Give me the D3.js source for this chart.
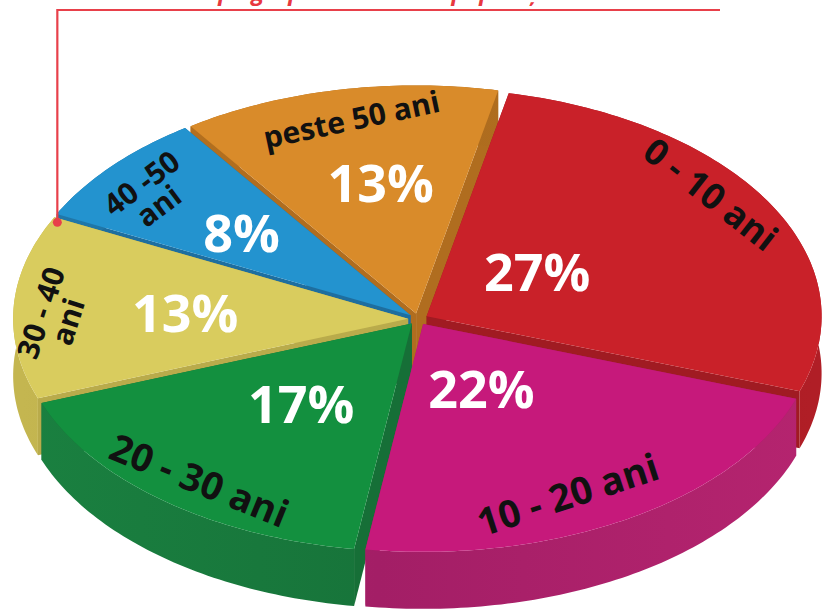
<!DOCTYPE html>
<html>
<head>
<meta charset="utf-8">
<script src="https://cdn.jsdelivr.net/npm/d3@7"></script>
<style>
  html, body { margin: 0; background: #ffffff; }
  svg { display: block; }
</style>
</head>
<body>
<svg id="chart" width="826" height="611"></svg>
<script>
// Age groups, shares and the texts written on each slice
const categories   = ["0 - 10 ani", "10 - 20 ani", "20 - 30 ani", "30 - 40 ani", "40 -50 ani", "peste 50 ani"];
const nameLines    = [["0 - 10 ani"], ["10 - 20 ani"], ["20 - 30 ani"], ["30 - 40", "ani"], ["40 -50", "ani"], ["peste 50 ani"]];
const values       = [27, 22, 17, 13, 8, 13];
const titleText    = "Structura pe grupe de vârstă a populației";

// Slice colours: top face, outer wall, cut faces
const topColors  = ["#c92129", "#c6197b", "#13903f", "#d9cc5e", "#2393cf", "#d98b2a"];
const wallColors = ["#9e1a22", "#a31e66", "#17743a", "#b3a547", "#1c6d9c", "#ab6a1e"];
const wallLight  = ["#b01e26", "#b5246f", "#1a8040", "#c4b650", "#2079ab", "#b97420"];
const cutColors  = ["#a01b22", "#a81c68", "#166f37", "#b9ab4b", "#1e6e9f", "#b06d1f"];

// Label placement on the slice (radius as a fraction, angle shift in degrees, rotation)
const pctRadius  = [0.37, 0.34, 0.47, 0.59, 0.59, 0.61];
const pctShift   = [-6, 3, 0, 0, 0, 2.5];
const nameRadius = [0.92, 0.86, 0.90, 0.92, 0.87, 0.89];
const nameShift  = [-7, 5, -1, -2.5, -2, 0.5];
const nameRot    = [38, -18, 22, -72, -37, -12];
const nameSize   = [36, 38, 38, 30, 30, 30];

const svg = d3.select("#chart");

// Oblique view of the pie: ellipse radii, centre, thickness and explode distance
const cx = 418, cy = 319, rx = 395, ry = 228, depth = 57, explode = 0.025;
const deg = Math.PI / 180;

const startA = 12 * deg;
const pie = d3.pie().sort(null).value(d => d).startAngle(startA).endAngle(startA + 2 * Math.PI);
const arcs = pie(values).map((a, i) => {
  const mid = (a.startAngle + a.endAngle) / 2;
  return {
    i, a0: a.startAngle, a1: a.endAngle, mid,
    ox: explode * rx * Math.sin(mid),
    oy: -explode * ry * Math.cos(mid)
  };
});

// angle measured clockwise from 12 o'clock, r as a fraction of the radius, dz = drop below the top face
function proj(s, t, r, dz) {
  return [cx + s.ox + r * rx * Math.sin(t), cy + s.oy - r * ry * Math.cos(t) + dz];
}
function arcPts(s, r, dz, reverse) {
  const n = Math.max(8, Math.ceil((s.a1 - s.a0) / (1 * deg)));
  const ts = d3.range(n + 1).map(k => s.a0 + (s.a1 - s.a0) * k / n);
  if (reverse) ts.reverse();
  return ts.map(t => proj(s, t, r, dz));
}
const poly = d3.line();

// horizontal shading of the outer walls
const defs = svg.append("defs");
arcs.forEach(s => {
  const gr = defs.append("linearGradient").attr("id", "wall" + s.i)
    .attr("gradientUnits", "userSpaceOnUse")
    .attr("x1", cx - rx).attr("x2", cx + rx).attr("y1", 0).attr("y2", 0);
  gr.append("stop").attr("offset", 0).attr("stop-color", wallLight[s.i]);
  gr.append("stop").attr("offset", 0.45).attr("stop-color", wallColors[s.i]);
  gr.append("stop").attr("offset", 1).attr("stop-color", wallLight[s.i]);
});

// Draw back slices first so nearer ones overlap them
const order = arcs.slice().sort((p, q) => (-Math.cos(p.mid)) - (-Math.cos(q.mid)));

const gPie = svg.append("g");
order.forEach(s => {
  const g = gPie.append("g");
  // radial cut faces
  [s.a0, s.a1].forEach(t => {
    const pts = [proj(s, t, 0, 0), proj(s, t, 1, 0), proj(s, t, 1, depth), proj(s, t, 0, depth)];
    g.append("path").attr("d", poly(pts) + "Z").attr("fill", cutColors[s.i]);
  });
  // outer wall
  const wall = arcPts(s, 1, 0, false).concat(arcPts(s, 1, depth, true));
  g.append("path").attr("d", poly(wall) + "Z").attr("fill", `url(#wall${s.i})`);
  // top face
  const top = [proj(s, s.a0, 0, 0)].concat(arcPts(s, 1, 0, false));
  g.append("path").attr("d", poly(top) + "Z").attr("fill", topColors[s.i]);
});

// Percentages
const gLbl = svg.append("g").attr("font-family", "'Open Sans', sans-serif").attr("font-weight", 700);
arcs.forEach(s => {
  const t = s.mid + pctShift[s.i] * deg;
  const [x, y] = [cx + pctRadius[s.i] * rx * Math.sin(t), cy - pctRadius[s.i] * ry * Math.cos(t)];
  gLbl.append("text")
    .attr("x", x).attr("y", y)
    .attr("text-anchor", "middle").attr("dominant-baseline", "central")
    .attr("font-size", 52).attr("fill", "#ffffff")
    .text(d3.format(".0f")(values[s.i]) + "%");
});

// Age group names, set along the rim
arcs.forEach(s => {
  const t = s.mid + nameShift[s.i] * deg;
  const [x, y] = [cx + nameRadius[s.i] * rx * Math.sin(t), cy - nameRadius[s.i] * ry * Math.cos(t)];
  const lines = nameLines[s.i];
  const fs = nameSize[s.i];
  const txt = gLbl.append("text")
    .attr("transform", `translate(${x},${y}) rotate(${nameRot[s.i]})`)
    .attr("text-anchor", "middle")
    .attr("font-size", fs).attr("fill", "#111111");
  lines.forEach((ln, k) => {
    txt.append("tspan")
      .attr("x", 0)
      .attr("y", (k - (lines.length - 1) / 2) * fs * 0.95 + fs * 0.35)
      .text(ln);
  });
});

// Title (runs off the top edge) and the red callout line
svg.append("text")
  .attr("x", 107).attr("y", 0)
  .attr("font-family", "'Open Sans', sans-serif").attr("font-style", "italic").attr("font-weight", 700)
  .attr("font-size", 23.5).attr("fill", "#e8383f")
  .text(titleText);

const dot = proj(arcs[3], arcs[3].a1, 1, 0);
svg.append("path")
  .attr("d", poly([[dot[0] + 3, dot[1] + 5], [dot[0] + 3, 10], [720, 10]]))
  .attr("fill", "none").attr("stroke", "#e8404a").attr("stroke-width", 2.2);
svg.append("circle").attr("cx", dot[0] + 3).attr("cy", dot[1] + 5).attr("r", 4.5).attr("fill", "#e8404a");
</script>
</body>
</html>
